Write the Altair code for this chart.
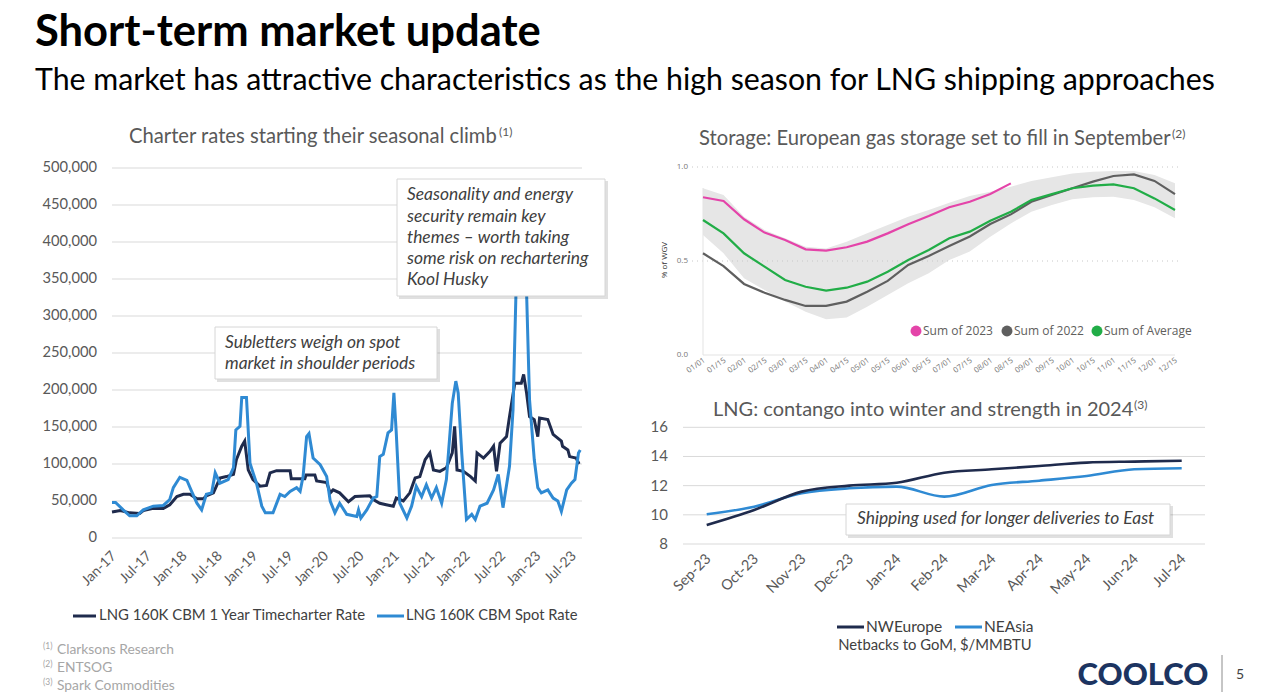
import altair as alt
import pandas as pd

# ---------------- data ----------------
# Left: charter rates (month index 0 = Jan-17), USD/day
charter_ticks = [0, 50000, 100000, 150000, 200000, 250000, 300000, 350000, 400000, 450000, 500000]
charter_tick_labels = ["0", "50,000", "100,000", "150,000", "200,000", "250,000", "300,000",
                       "350,000", "400,000", "450,000", "500,000"]
charter_month_ticks = [0, 6, 12, 18, 24, 30, 36, 42, 48, 54, 60, 66, 72, 78]
charter_month_labels = ["Jan-17", "Jul-17", "Jan-18", "Jul-18", "Jan-19", "Jul-19", "Jan-20",
                        "Jul-20", "Jan-21", "Jul-21", "Jan-22", "Jul-22", "Jan-23", "Jul-23"]

tc_month = [0, 1.4, 3, 4.7, 5.3, 7, 8.7, 9.8, 11, 12.1, 13.2, 14.4, 15.5, 16, 17.2, 18.3, 19.4,
            20.6, 21.1, 22, 22.5, 23.1, 23.9, 25.1, 26.2, 26.8, 27.9, 30.2, 30.4, 32.7, 32.9, 34.4,
            34.7, 36.4, 37, 37.5, 38.6, 40.1, 41.2, 43.7, 44.3, 45.4, 46.5, 47.7, 48.2, 49.4, 50.5,
            51.4, 52.2, 53.1, 53.9, 54.5, 55.6, 56.7, 57.7, 58.1, 58.5, 59.6, 60.8, 61.6, 61.9, 63,
            64.1, 64.7, 65.2, 65.8, 66.9, 67.4, 68.3, 69.4, 69.8, 70.3, 70.8, 71.6, 72.2, 72.5, 73.9,
            74.8, 76.2, 76.4, 77.3, 77.6, 78.7, 79.2]
tc_rate = [35000, 37000, 34000, 33000, 37000, 40000, 40000, 45000, 56000, 59000, 59000, 53000, 53000,
           57000, 61000, 81000, 83000, 86000, 106000, 124000, 131000, 92000, 79000, 70000, 71000,
           88000, 91000, 91000, 80000, 80000, 85000, 85000, 77000, 75000, 61000, 65000, 61000, 49000,
           56000, 57000, 52000, 47000, 45000, 43000, 54000, 50000, 61000, 81000, 83000, 106000,
           115000, 92000, 90000, 95000, 115000, 151000, 92000, 90000, 83000, 77000, 115000, 108000,
           117000, 124000, 90000, 128000, 137000, 164000, 209000, 209000, 221000, 196000, 164000,
           160000, 137000, 162000, 160000, 140000, 131000, 124000, 119000, 110000, 108000, 100000]

spot_month = [0, 0.6, 1.9, 3, 4.2, 5.3, 7, 8.7, 9.8, 10.4, 11.5, 12.7, 13.5, 14.4, 15.2, 16, 16.9,
              17.5, 18.3, 19.7, 20.6, 21, 21.7, 22, 22.8, 23.4, 24.5, 25.4, 26, 27.3, 28.5, 29.3,
              30.2, 31.3, 31.9, 32.4, 33, 33.4, 34.1, 35.3, 36.4, 37, 37.8, 38.6, 39.8, 41.5, 41.8,
              42.2, 43.2, 44.3, 44.9, 45.4, 46, 46.8, 47.4, 47.8, 48.2, 48.8, 50, 50.8, 51.6, 52.5,
              53.3, 54.2, 55, 55.9, 56.7, 57.7, 58.3, 58.7, 59.3, 60.1, 61, 61.6, 62.4, 63.6, 64.7,
              65.5, 66.3, 67.4, 68, 68.5, 69, 69.9, 70.3, 70.8, 71.6, 72.2, 72.8, 73.9, 74.8, 75.6,
              76.2, 77.1, 77.9, 78.5, 79.1, 79.4]
spot_rate = [48000, 48000, 38000, 30000, 30000, 38000, 43000, 44000, 52000, 68000, 82000, 78000,
             63000, 47000, 38000, 59000, 61000, 88000, 74000, 79000, 95000, 146000, 151000, 190000,
             190000, 101000, 74000, 43000, 34000, 34000, 59000, 56000, 63000, 68000, 63000, 83000,
             137000, 141000, 108000, 99000, 83000, 50000, 34000, 47000, 32000, 29000, 38000, 27000,
             38000, 54000, 56000, 110000, 113000, 142000, 146000, 196000, 142000, 47000, 27000,
             43000, 70000, 56000, 72000, 54000, 68000, 47000, 79000, 182000, 212000, 196000, 115000,
             25000, 32000, 25000, 43000, 47000, 65000, 86000, 41000, 97000, 173000, 331000, 430000,
             430000, 331000, 187000, 106000, 68000, 61000, 65000, 54000, 50000, 36000, 65000, 74000,
             79000, 115000, 119000]

# Top right: European gas storage, share of working gas volume
storage_dates = ["01/01", "01/15", "02/01", "02/15", "03/01", "03/15", "04/01", "04/15", "05/01",
                 "05/15", "06/01", "06/15", "07/01", "07/15", "08/01", "08/15", "09/01", "09/15",
                 "10/01", "10/15", "11/01", "11/15", "12/01", "12/15"]
storage_2023 = [0.839, 0.819, 0.722, 0.651, 0.612, 0.562, 0.555, 0.573, 0.603, 0.647, 0.695, 0.739,
                0.786, 0.815, 0.856, 0.913]
storage_2022 = [0.541, 0.473, 0.378, 0.331, 0.293, 0.261, 0.261, 0.284, 0.337, 0.394, 0.479, 0.527,
                0.58, 0.63, 0.697, 0.748, 0.815, 0.851, 0.887, 0.922, 0.952, 0.961, 0.926, 0.856]
storage_avg = [0.718, 0.647, 0.541, 0.47, 0.399, 0.363, 0.342, 0.358, 0.39, 0.443, 0.505, 0.559,
               0.621, 0.656, 0.714, 0.762, 0.824, 0.856, 0.887, 0.901, 0.908, 0.887, 0.833, 0.771]
storage_max = [0.887, 0.851, 0.736, 0.665, 0.621, 0.576, 0.567, 0.603, 0.647, 0.691, 0.736, 0.771,
               0.81, 0.846, 0.869, 0.895, 0.926, 0.945, 0.966, 0.975, 0.979, 0.979, 0.957, 0.913]
storage_min = [0.638, 0.541, 0.408, 0.346, 0.284, 0.23, 0.19, 0.2, 0.257, 0.319, 0.381, 0.435,
               0.505, 0.55, 0.629, 0.70, 0.762, 0.798, 0.828, 0.839, 0.842, 0.824, 0.786, 0.727]
storage_ticks = [0.0, 0.5, 1.0]
storage_tick_labels = ["0.0", "0.5", "1.0"]

# Bottom right: LNG netbacks to GoM, $/MMBTU
lng_months = ["Sep-23", "Oct-23", "Nov-23", "Dec-23", "Jan-24", "Feb-24", "Mar-24", "Apr-24",
              "May-24", "Jun-24", "Jul-24"]
nw_europe = [9.3, 10.33, 11.59, 12.0, 12.2, 12.89, 13.12, 13.35, 13.58, 13.65, 13.71]
ne_asia = [10.04, 10.56, 11.48, 11.82, 11.93, 11.25, 12.05, 12.34, 12.66, 13.12, 13.19]
lng_ticks = [8, 10, 12, 14, 16]

# ---------------- styling ----------------
FONT = "Lato"
GREY_TXT = "#595959"
DARK_TXT = "#404040"
NAVY = "#1f2b4d"
BLUE = "#2f8ad3"
ONE = pd.DataFrame({"k": [0]})


def txt(text, x, y, size, color=GREY_TXT, weight="normal", style="normal", align="left",
        baseline="middle", font=FONT, angle=0):
    return alt.Chart(pd.DataFrame({"t": [text]})).mark_text(
        align=align, baseline=baseline, fontSize=size, color=color, fontWeight=weight,
        fontStyle=style, font=font, angle=angle
    ).encode(x=alt.value(x), y=alt.value(y), text="t:N")


def hline(x1, x2, y, color, width=1.0, dash=None):
    kw = {}
    if dash:
        kw["strokeDash"] = dash
    return alt.Chart(ONE).mark_rule(color=color, strokeWidth=width, **kw).encode(
        x=alt.value(x1), x2=alt.value(x2), y=alt.value(y))


def vline(x, y1, y2, color, width=1.0):
    return alt.Chart(ONE).mark_rule(color=color, strokeWidth=width).encode(
        x=alt.value(x), y=alt.value(y1), y2=alt.value(y2))


def box(x1, y1, x2, y2):
    shadow = alt.Chart(ONE).mark_rect(fill="#000000", opacity=0.12).encode(
        x=alt.value(x1 + 2), x2=alt.value(x2 + 3), y=alt.value(y1 + 2), y2=alt.value(y2 + 3))
    face = alt.Chart(ONE).mark_rect(fill="white", stroke="#d6d6d6", strokeWidth=1).encode(
        x=alt.value(x1), x2=alt.value(x2), y=alt.value(y1), y2=alt.value(y2))
    return [shadow, face]


layers = []

# ---------- page titles ----------
layers.append(txt("Short-term market update", 35, 46, 43.5, "#000000", weight="bold", baseline="alphabetic"))
layers.append(txt("The market has attractive characteristics as the high season for LNG shipping approaches",
                  35, 90, 30.3, "#000000", baseline="alphabetic"))

# ---------- left chart ----------
LX = alt.Scale(domain=[0, 78], range=[112, 572], nice=False, zero=False)
LY = alt.Scale(domain=[0, 500000], range=[538, 168], nice=False, zero=False)

layers.append(txt("Charter rates starting their seasonal climb", 129, 137, 20.2))
layers.append(txt("(1)", 499, 132, 12))

ldf_ticks = pd.DataFrame({"v": charter_ticks, "lab": charter_tick_labels})
layers.append(alt.Chart(ldf_ticks).mark_rule(color="#d9d9d9", strokeWidth=1).encode(
    y=alt.Y("v:Q", scale=LY, axis=None), x=alt.value(112), x2=alt.value(582)))
layers.append(alt.Chart(ldf_ticks).mark_text(align="right", baseline="middle", fontSize=14.7,
                                             color=GREY_TXT, font=FONT).encode(
    y=alt.Y("v:Q", scale=LY, axis=None), x=alt.value(97), text="lab:N"))
ldf_xt = pd.DataFrame({"m": charter_month_ticks, "lab": charter_month_labels})
layers.append(alt.Chart(ldf_xt).mark_text(align="right", baseline="middle", fontSize=14, angle=315,
                                          color=GREY_TXT, font=FONT, dx=3).encode(
    x=alt.X("m:Q", scale=LX, axis=None), y=alt.value(556), text="lab:N"))

tc_df = pd.DataFrame({"m": tc_month, "v": tc_rate})
spot_df = pd.DataFrame({"m": spot_month, "v": spot_rate})
layers.append(alt.Chart(tc_df).mark_line(color=NAVY, strokeWidth=3).encode(
    x=alt.X("m:Q", scale=LX, axis=None), y=alt.Y("v:Q", scale=LY, axis=None)))
layers.append(alt.Chart(spot_df).mark_line(color=BLUE, strokeWidth=3).encode(
    x=alt.X("m:Q", scale=LX, axis=None), y=alt.Y("v:Q", scale=LY, axis=None)))

layers += box(215, 327, 437, 379)
layers.append(txt("Subletters weigh on spot", 225, 343, 17.4, DARK_TXT, style="italic"))
layers.append(txt("market in shoulder periods", 225, 364, 17.4, DARK_TXT, style="italic"))
layers += box(397, 179, 605, 296)
for i, line in enumerate(["Seasonality and energy", "security remain key", "themes \u2013 worth taking",
                          "some risk on rechartering", "Kool Husky"]):
    layers.append(txt(line, 407, [195, 217, 238, 259, 280][i], 17.4, DARK_TXT, style="italic"))

# legend
layers.append(hline(73, 96, 616, NAVY, 3))
layers.append(txt("LNG 160K CBM 1 Year Timecharter Rate", 99, 616, 14.9, DARK_TXT))
layers.append(hline(377, 404, 616, BLUE, 3))
layers.append(txt("LNG 160K CBM Spot Rate", 406, 616, 14.7, DARK_TXT))

# footnotes
for i, (sup, note) in enumerate([("(1)", "Clarksons Research"), ("(2)", "ENTSOG"), ("(3)", "Spark Commodities")]):
    yy = 650 + 18 * i
    layers.append(txt(sup, 43, yy - 4, 8.5, "#a6a6a6"))
    layers.append(txt(note, 57, yy, 13.8, "#a6a6a6"))

# ---------- storage chart ----------
SX = alt.Scale(domain=[0, 23], range=[703, 1175], nice=False, zero=False)
SY = alt.Scale(domain=[0, 1], range=[355, 167], nice=False, zero=False)

layers.append(txt("Storage: European gas storage set to fill in September", 699, 139, 20.2))
layers.append(txt("(2)", 1172, 134, 12))

band_df = pd.DataFrame({"i": list(range(len(storage_dates))), "lo": storage_min, "hi": storage_max})
layers.append(alt.Chart(band_df).mark_area(color="#e6e6e6").encode(
    x=alt.X("i:Q", scale=SX, axis=None), y=alt.Y("lo:Q", scale=SY, axis=None), y2="hi:Q"))

sdf_ticks = pd.DataFrame({"v": storage_ticks, "lab": storage_tick_labels})
layers.append(alt.Chart(sdf_ticks.iloc[1:]).mark_rule(color="#c8c8c8", strokeWidth=1, strokeDash=[1, 4]).encode(
    y=alt.Y("v:Q", scale=SY, axis=None), x=alt.value(692), x2=alt.value(1180)))
layers.append(alt.Chart(sdf_ticks.iloc[:1]).mark_rule(color="#e3e3e3", strokeWidth=1).encode(
    y=alt.Y("v:Q", scale=SY, axis=None), x=alt.value(703), x2=alt.value(1175)))
layers.append(vline(703, 188, 355, "#e3e3e3"))
layers.append(alt.Chart(sdf_ticks).mark_text(align="right", baseline="middle", fontSize=8,
                                             color="#777777", font="Open Sans").encode(
    y=alt.Y("v:Q", scale=SY, axis=None), x=alt.value(688), text="lab:N"))
layers.append(txt("% of WGV", 665, 260, 8, "#333333", align="center", font="Open Sans", angle=270))
sx_df = pd.DataFrame({"i": list(range(len(storage_dates))), "lab": storage_dates})
layers.append(alt.Chart(sx_df).mark_text(align="right", baseline="middle", fontSize=7.8, angle=325,
                                         color="#777777", font="Open Sans", dx=2).encode(
    x=alt.X("i:Q", scale=SX, axis=None), y=alt.value(361), text="lab:N"))

s22 = pd.DataFrame({"i": list(range(len(storage_2022))), "v": storage_2022})
savg = pd.DataFrame({"i": list(range(len(storage_avg))), "v": storage_avg})
s23 = pd.DataFrame({"i": list(range(len(storage_2023))), "v": storage_2023})
for d, c in [(s22, "#5f5f5f"), (savg, "#21ad47"), (s23, "#e444a9")]:
    layers.append(alt.Chart(d).mark_line(color=c, strokeWidth=2.2).encode(
        x=alt.X("i:Q", scale=SX, axis=None), y=alt.Y("v:Q", scale=SY, axis=None)))

for cx, col, lab in [(916, "#e444a9", "Sum of 2023"), (1007, "#5f5f5f", "Sum of 2022"),
                     (1097, "#21ad47", "Sum of Average")]:
    layers.append(alt.Chart(ONE).mark_point(filled=True, shape="circle", size=120, color=col, opacity=1).encode(
        x=alt.value(cx), y=alt.value(331)))
    layers.append(txt(lab, cx + 7, 331, 12, "#605e5c", font="Open Sans"))

# ---------- LNG chart ----------
NX = alt.Scale(domain=[0, 10], range=[706.7, 1181.7], nice=False, zero=False)
NY = alt.Scale(domain=[8, 16], range=[544, 427.3], nice=False, zero=False)

layers.append(txt("LNG: contango into winter and strength in 2024", 713, 410, 20))
layers.append(txt("(3)", 1134, 405, 12))

ndf_ticks = pd.DataFrame({"v": lng_ticks, "lab": [str(t) for t in lng_ticks]})
layers.append(alt.Chart(ndf_ticks).mark_rule(color="#d9d9d9", strokeWidth=1).encode(
    y=alt.Y("v:Q", scale=NY, axis=None), x=alt.value(683), x2=alt.value(1205)))
layers.append(alt.Chart(ndf_ticks).mark_text(align="right", baseline="middle", fontSize=15,
                                             color=GREY_TXT, font=FONT).encode(
    y=alt.Y("v:Q", scale=NY, axis=None), x=alt.value(668), text="lab:N"))
nx_df = pd.DataFrame({"i": list(range(len(lng_months))), "lab": lng_months})
layers.append(alt.Chart(nx_df).mark_text(align="right", baseline="middle", fontSize=14.5, angle=315,
                                         color=GREY_TXT, font=FONT, dx=3).encode(
    x=alt.X("i:Q", scale=NX, axis=None), y=alt.value(559), text="lab:N"))

nw_df = pd.DataFrame({"i": list(range(len(nw_europe))), "v": nw_europe})
ne_df = pd.DataFrame({"i": list(range(len(ne_asia))), "v": ne_asia})
layers.append(alt.Chart(ne_df).mark_line(color=BLUE, strokeWidth=2.6, interpolate="monotone").encode(
    x=alt.X("i:Q", scale=NX, axis=None), y=alt.Y("v:Q", scale=NY, axis=None)))
layers.append(alt.Chart(nw_df).mark_line(color=NAVY, strokeWidth=2.6, interpolate="monotone").encode(
    x=alt.X("i:Q", scale=NX, axis=None), y=alt.Y("v:Q", scale=NY, axis=None)))

layers += box(846, 504, 1170, 535)
layers.append(txt("Shipping used for longer deliveries to East", 857, 519, 17.4, DARK_TXT, style="italic"))

layers.append(hline(837, 864, 627, NAVY, 3))
layers.append(txt("NWEurope", 866, 627, 15.5, DARK_TXT))
layers.append(hline(955, 982, 627, BLUE, 3))
layers.append(txt("NEAsia", 984, 627, 15.5, DARK_TXT))
layers.append(txt("Netbacks to GoM, $/MMBTU", 935, 646, 14.8, DARK_TXT, align="center"))

# ---------- logo / page number ----------
layers.append(txt("COOLCO", 1143, 676, 31, "#1c3461", weight=900, align="center"))
layers.append(vline(1222, 655, 692, "#8c8c8c"))
layers.append(txt("5", 1240, 675, 14, DARK_TXT, align="center"))

chart = alt.layer(*layers).resolve_scale(x="independent", y="independent").properties(
    width=1280, height=696, autosize=alt.AutoSizeParams(type="none"), padding=0,
    background="white"
).configure_view(stroke=None)

chart.save("out.html", embed_options={"renderer": "svg", "actions": False})
